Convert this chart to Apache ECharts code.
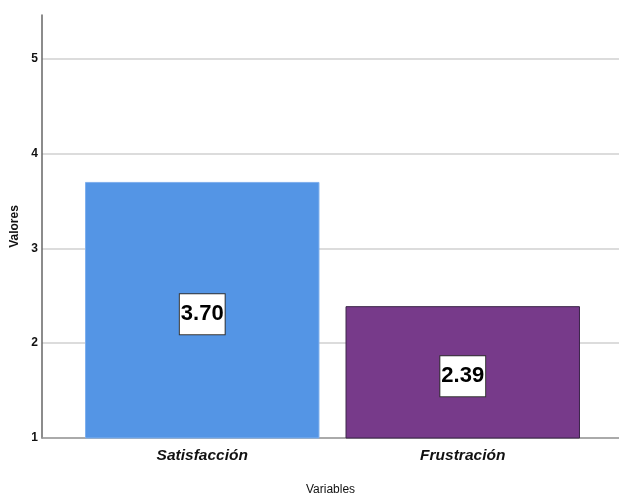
<!DOCTYPE html>
<html><head><meta charset="utf-8">
<script src="https://cdn.jsdelivr.net/npm/echarts@6/dist/echarts.min.js"></script>
<style>html,body{margin:0;padding:0;background:#fff}#c{width:619px;height:495px}</style>
</head><body><div id="c"></div>
<script>
const categories = ['Satisfacción', 'Frustración'];
const values = [3.70, 2.39];
const barColors = ['#5495e5', '#773a8a'];
const yTicks = [1, 2, 3, 4, 5];

const chart = echarts.init(document.getElementById('c'));
const ff = "'Liberation Sans Narrow', 'Arial Narrow', Arial, 'Liberation Sans', sans-serif";
chart.setOption({
  animation: false,
  grid: [
    {left: 72, right: 26, top: 15, bottom: 57, outerBoundsMode: 'none', containLabel: false},
    {left: 42, right: 0, top: 15, bottom: 57, outerBoundsMode: 'none', containLabel: false}
  ],
  xAxis: [
    {type: 'category', gridIndex: 0, data: categories,
     axisLine: {show: false}, axisTick: {show: false},
     axisLabel: {fontFamily: ff, fontSize: 15.5, fontWeight: 'bold', fontStyle: 'italic', color: '#111', margin: 10}},
    {type: 'value', gridIndex: 1, min: 0, max: 1, show: true,
     axisLine: {show: true, onZero: false, lineStyle: {color: '#999', width: 1.5}},
     axisTick: {show: false}, axisLabel: {show: false}, splitLine: {show: false},
     name: 'Variables', nameLocation: 'middle', nameGap: 46,
     nameTextStyle: {fontFamily: ff, fontSize: 12, color: '#111'}}
  ],
  yAxis: [
    {type: 'value', gridIndex: 0, min: 1, max: 5.46, interval: 1, show: false},
    {type: 'value', gridIndex: 1, min: 1, max: 5.46, interval: 1,
     axisLine: {show: true, lineStyle: {color: '#666', width: 1.5}},
     axisTick: {show: false},
     axisLabel: {fontFamily: ff, fontSize: 12, fontWeight: 'bold', color: '#111', margin: 4,
                 showMaxLabel: false,
                 formatter: v => yTicks.includes(v) ? String(v) : ''},
     splitLine: {show: true, showMaxLine: false, lineStyle: {color: '#d0d0d0', width: 1.5}},
     name: 'Valores', nameLocation: 'middle', nameGap: 15, nameRotate: 90,
     nameTextStyle: {fontFamily: ff, fontSize: 12, fontWeight: 'bold', color: '#111'}}
  ],
  series: [{
    type: 'bar', xAxisIndex: 0, yAxisIndex: 0, barWidth: '90%',
    data: values.map((v, i) => ({
      value: v,
      itemStyle: {color: barColors[i], borderColor: i === 1 ? '#3b2548' : '#7fb0ee', borderWidth: 1}
    })),
    label: {
      show: true, position: 'inside', offset: [0, 4],
      formatter: p => p.value.toFixed(2),
      fontFamily: ff, fontSize: 22, fontWeight: 'bold', color: '#000',
      backgroundColor: '#fff', borderColor: '#333', borderWidth: 1,
      padding: [10, 1, 8, 1]
    }
  }]
});
</script></body></html>
